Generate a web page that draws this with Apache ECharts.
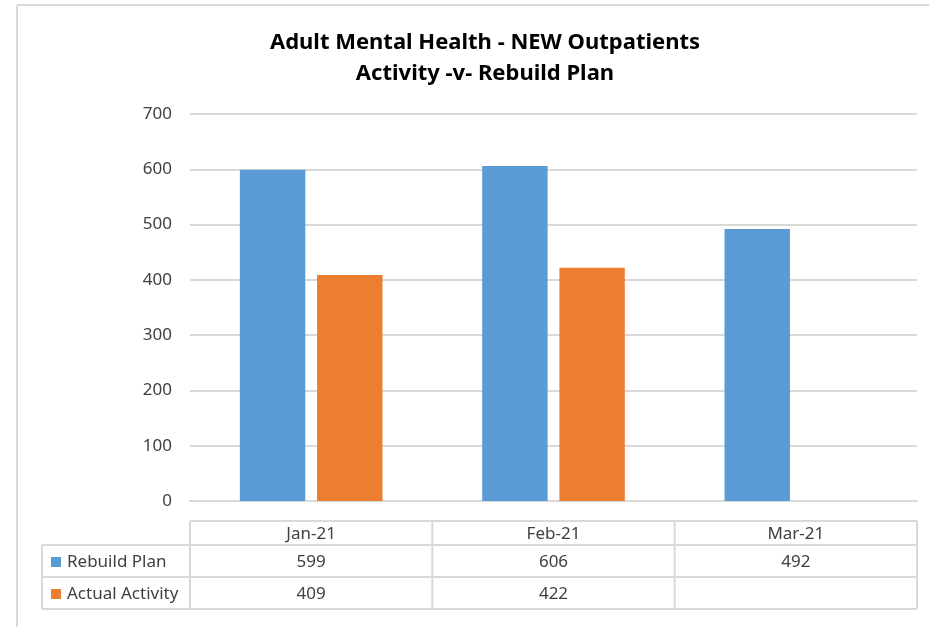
<!DOCTYPE html>
<html><head><meta charset="utf-8">
<script src="https://cdn.jsdelivr.net/npm/echarts@6/dist/echarts.min.js"></script>
<style>html,body{margin:0;padding:0;background:#fff}#c{width:929px;height:627px}</style>
</head><body><div id="c"></div>
<script>
const categories = ['Jan-21', 'Feb-21', 'Mar-21'];
const rebuildPlan = [599, 606, 492];
const actualActivity = [409, 422, null];
const seriesNames = ['Rebuild Plan', 'Actual Activity'];
const titleLines = ['Adult Mental Health - NEW Outpatients', 'Activity -v- Rebuild Plan'];
const yMin = 0, yMax = 700, yStep = 100;

const colors = ['#5B9BD5', '#ED7D31'];
const FONT = '"Noto Sans", "Open Sans", sans-serif';
const gridL = 190, gridR = 917, gridT = 114, gridB = 501;
const W = 929, H = 627;

const chart = echarts.init(document.getElementById('c'), null, {renderer: 'canvas'});

// data table built from the arrays
const tableRows = [rebuildPlan, actualActivity];
const colW = (gridR - gridL) / categories.length;
const rowY = [521, 545, 577, 609];
const rowHeadL = 42;
const lineColor = '#d9d9d9';
const g = [];
function hline(x1, x2, y) { g.push({type: 'line', shape: {x1, y1: y, x2, y2: y}, style: {stroke: lineColor, lineWidth: 2}, silent: true}); }
function vline(x, y1, y2) { g.push({type: 'line', shape: {x1: x, y1, x2: x, y2}, style: {stroke: lineColor, lineWidth: 2}, silent: true}); }
// outer frame lines of the chart area
hline(17, W, 5);
vline(17, 5, H);
// table grid
hline(gridL, gridR, rowY[0]);
hline(rowHeadL, gridR, rowY[1]);
hline(rowHeadL, gridR, rowY[2]);
hline(rowHeadL, gridR, rowY[3]);
vline(rowHeadL, rowY[1], rowY[3]);
for (let i = 0; i <= categories.length; i++) vline(gridL + i * colW, rowY[0], rowY[3]);
const txtStyle = {fontFamily: FONT, fontSize: 17, fill: '#404040', align: 'center', verticalAlign: 'middle'};
categories.forEach((c, i) => {
  g.push({type: 'text', x: gridL + (i + 0.5) * colW, y: (rowY[0] + rowY[1]) / 2 + 1, style: Object.assign({text: c}, txtStyle), silent: true});
});
tableRows.forEach((row, r) => {
  const cy = (rowY[r + 1] + rowY[r + 2]) / 2 + 1;
  g.push({type: 'rect', shape: {x: 51, y: cy - 5, width: 10, height: 10}, style: {fill: colors[r]}, silent: true});
  g.push({type: 'text', x: 67, y: cy, style: Object.assign({}, txtStyle, {text: seriesNames[r], align: 'left'}), silent: true});
  row.forEach((v, i) => {
    if (v == null) return;
    g.push({type: 'text', x: gridL + (i + 0.5) * colW, y: cy, style: Object.assign({text: String(v)}, txtStyle), silent: true});
  });
});

chart.setOption({
  animation: false,
  backgroundColor: '#fff',
  title: {
    text: titleLines.join('\n'),
    left: 480, top: 22, textAlign: 'center',
    textStyle: {fontFamily: FONT, fontWeight: 'bold', fontSize: 22, color: '#000', lineHeight: 31}
  },
  grid: {left: gridL, right: W - gridR, top: gridT, bottom: H - gridB, containLabel: false},
  xAxis: {
    type: 'category', data: categories,
    axisLine: {show: true, lineStyle: {color: lineColor, width: 2}},
    axisTick: {show: false}, axisLabel: {show: false}
  },
  yAxis: {
    type: 'value', min: yMin, max: yMax, interval: yStep,
    axisLine: {show: false}, axisTick: {show: false},
    axisLabel: {fontFamily: FONT, fontSize: 17, color: '#404040', margin: 18},
    splitLine: {lineStyle: {color: lineColor, width: 2}}
  },
  series: [
    {name: seriesNames[0], type: 'bar', data: rebuildPlan, barWidth: '27%', barGap: '18%', itemStyle: {color: colors[0]}},
    {name: seriesNames[1], type: 'bar', data: actualActivity, barWidth: '27%', barGap: '18%', itemStyle: {color: colors[1]}}
  ],
  graphic: g
});
</script></body></html>
